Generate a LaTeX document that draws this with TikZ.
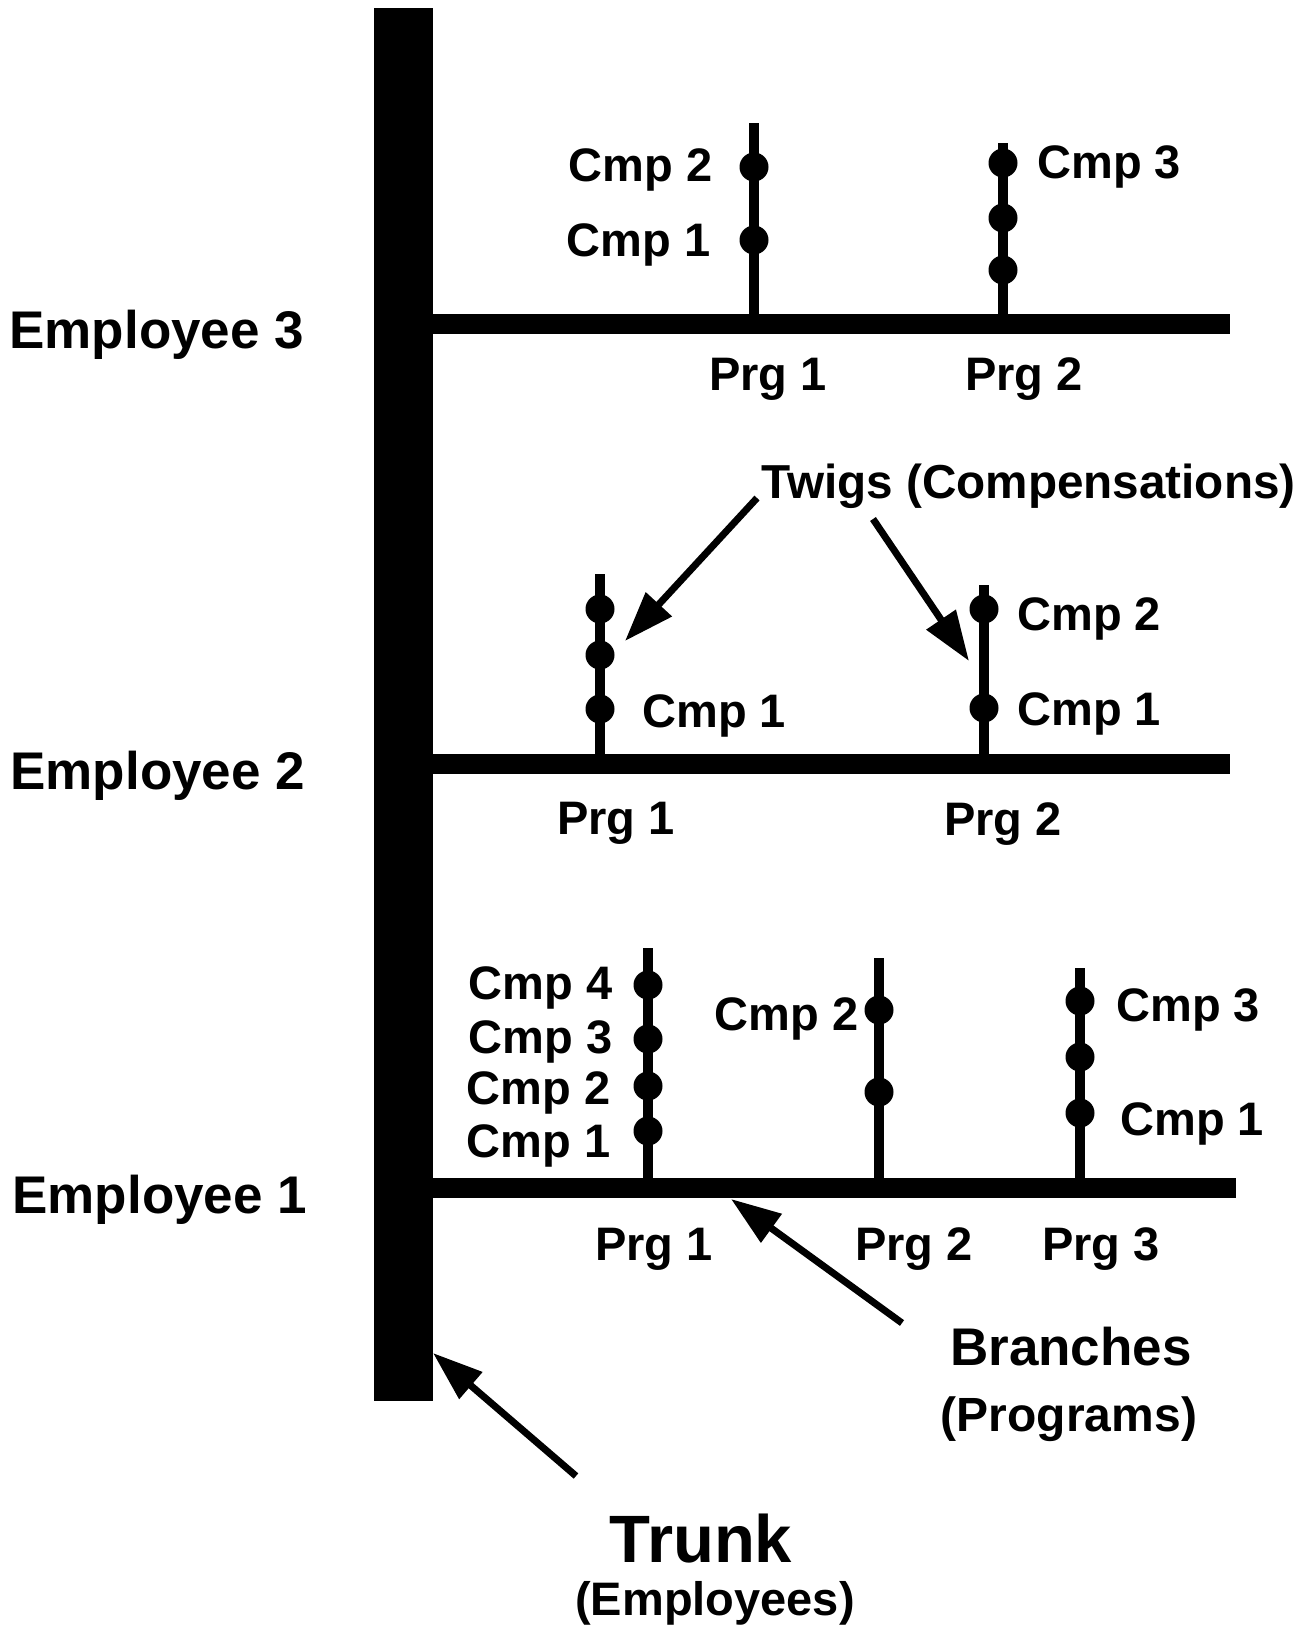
\documentclass[tikz,border=0pt]{standalone}
\usepackage{fontspec}
\setmainfont{Liberation Sans}
\usetikzlibrary{arrows.meta}

\tikzset{every picture/.style={line width=0.75pt}}
\tikzset{
  branch/.style={line width=15pt},
  twig/.style={line width=7.5pt},
  bud/.style={circle,fill=black,inner sep=0pt,minimum size=21.75pt},
  cmp/.style={inner sep=0pt,font=\fontsize{35.25}{40}\selectfont\bfseries},
  emp/.style={inner sep=0pt,font=\fontsize{39.75}{44}\selectfont\bfseries},
  pointer/.style={line width=5.25pt,-{Triangle[length=37.5pt,width=25.5pt]}},
}

\begin{document}
\begin{tikzpicture}[x=0.75pt,y=0.75pt,yscale=-1,xscale=1]
	\useasboundingbox (0,0) rectangle (1315,1633);

	%Trunk
	\fill (374,8) rectangle (433,1401);

	%Branches
	\draw [branch] (432,324) -- (1230,324);
	\draw [branch] (432,764) -- (1230,764);
	\draw [branch] (432,1188) -- (1236,1188);

	%Employee 3, twigs
	\draw [twig] (754,324) -- (754,123);
	\draw [twig] (1003,324) -- (1003,143);
	\node [bud] (b31a) at (754,240) {};
	\node [bud] (b31b) at (754,167) {};
	\node [bud] (b32a) at (1003,270) {};
	\node [bud] (b32b) at (1003,218) {};
	\node [bud] (b32c) at (1003,163) {};

	%Employee 2, twigs
	\draw [twig] (600,764) -- (600,574);
	\draw [twig] (984,764) -- (984,585);
	\node [bud] (b21a) at (600,709) {};
	\node [bud] (b21b) at (600,655) {};
	\node [bud] (b21c) at (600,609) {};
	\node [bud] (b22a) at (984,708) {};
	\node [bud] (b22b) at (984,609) {};

	%Employee 1, twigs
	\draw [twig] (648,1188) -- (648,948);
	\draw [twig] (879,1188) -- (879,958);
	\draw [twig] (1080,1188) -- (1080,968);
	\node [bud] (b11a) at (648,1131) {};
	\node [bud] (b11b) at (648,1086) {};
	\node [bud] (b11c) at (648,1039) {};
	\node [bud] (b11d) at (648,985) {};
	\node [bud] (b12a) at (879,1092) {};
	\node [bud] (b12b) at (879,1010) {};
	\node [bud] (b13a) at (1080,1113) {};
	\node [bud] (b13b) at (1080,1057) {};
	\node [bud] (b13c) at (1080,1001) {};

	% Employee labels
	\node [emp,anchor=base west] (emp3) at (9,348) {Employee 3};
	\node [emp,anchor=base west] (emp2) at (10,789) {Employee 2};
	\node [emp,anchor=base west] (emp1) at (12,1213) {Employee 1};

	% Text Node
	\node [cmp,anchor=base east] (c31a) at (711,257) {Cmp 1};
	\node [cmp,anchor=base east] (c31b) at (713,182) {Cmp 2};
	\node [cmp,anchor=base west] (c32c) at (1037,179) {Cmp 3};
	\node [cmp,anchor=base] (p31) at (768,390) {Prg 1};
	\node [cmp,anchor=base] (p32) at (1024,390) {Prg 2};

	% Text Node
	\node [cmp,anchor=base west] (c21a) at (642,727) {Cmp 1};
	\node [cmp,anchor=base west] (c22b) at (1017,630) {Cmp 2};
	\node [cmp,anchor=base west] (c22a) at (1017,725) {Cmp 1};
	\node [cmp,anchor=base] (p21) at (616,834) {Prg 1};
	\node [cmp,anchor=base] (p22) at (1003,835) {Prg 2};

	% Text Node
	\node [cmp,anchor=base east] (c11d) at (613,999) {Cmp 4};
	\node [cmp,anchor=base east] (c11c) at (613,1053) {Cmp 3};
	\node [cmp,anchor=base east] (c11b) at (611,1104) {Cmp 2};
	\node [cmp,anchor=base east] (c11a) at (611,1157) {Cmp 1};
	\node [cmp,anchor=base east] (c12b) at (859,1030) {Cmp 2};
	\node [cmp,anchor=base west] (c13c) at (1116,1021) {Cmp 3};
	\node [cmp,anchor=base west] (c13a) at (1120,1135) {Cmp 1};
	\node [cmp,anchor=base] (p11) at (654,1260) {Prg 1};
	\node [cmp,anchor=base] (p12) at (914,1260) {Prg 2};
	\node [cmp,anchor=base] (p13) at (1101,1260) {Prg 3};

	% Callouts
	\node [cmp,anchor=base west,font=\fontsize{35.75}{40}\selectfont\bfseries] (twigs) at (761,498) {Twigs (Compensations)};
	\node [cmp,anchor=base,font=\fontsize{39.75}{44}\selectfont\bfseries] (branches) at (1071,1365) {Branches};
	\node [cmp,anchor=base,font=\fontsize{36}{40}\selectfont\bfseries] (programs) at (1069,1431) {(Programs)};
	\node [cmp,anchor=base,font=\fontsize{50.25}{56}\selectfont\bfseries] (trunk) at (701,1562) {Trunk};
	\node [cmp,anchor=base] (employees) at (715,1615) {(Employees)};

	%Pointer ends
	\coordinate (tw1) at (757,498);
	\coordinate (tw2) at (873,519);
	\coordinate (twtip1) at (625,641);
	\coordinate (twtip2) at (969,661);
	\coordinate (br) at (902,1323);
	\coordinate (brtip) at (731,1199);
	\coordinate (tr) at (576,1476);
	\coordinate (trtip) at (433,1353);

	\draw [pointer] (tw1) -- (twtip1);
	\draw [pointer] (tw2) -- (twtip2);
	\draw [pointer] (br) -- (brtip);
	\draw [pointer] (tr) -- (trtip);
\end{tikzpicture}
\end{document}
